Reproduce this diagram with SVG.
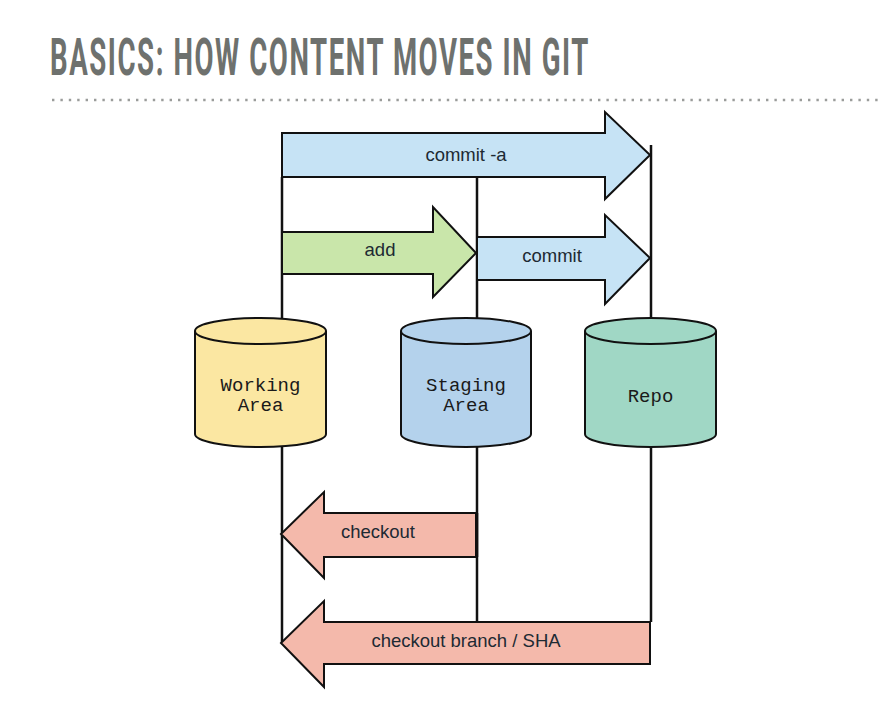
<svg xmlns="http://www.w3.org/2000/svg" width="882" height="706" viewBox="0 0 882 706">
<style>
.title{font-family:Roboto,"Liberation Sans",Arial,sans-serif;font-weight:700;font-size:52px;letter-spacing:3px;fill:#6e716e}
.lbl{font-family:"Liberation Sans",Arial,sans-serif;font-size:18.5px;fill:#1d2a33;text-anchor:middle}
.mono{font-family:"Liberation Mono","Courier New",monospace;font-size:19px;fill:#1a1a1a;text-anchor:middle}
.edge{stroke:#111;stroke-width:2.5;fill:none}
.out{stroke:#111;stroke-width:2;stroke-linejoin:miter}
.blue{fill:#c6e3f5}
.green{fill:#c9e6aa}
.red{fill:#f4b9ab}
</style>
<rect width="882" height="706" fill="#ffffff"/>
<text class="title" x="50" y="75" textLength="540" lengthAdjust="spacingAndGlyphs">BASICS: HOW CONTENT MOVES IN GIT</text>
<line x1="52" y1="100" x2="882" y2="100" stroke="#9a9c9a" stroke-width="2.4" stroke-dasharray="2.4 6"/>
<g id="connectors">
  <path class="edge" d="M282,177 V318 M282,447 V643 M477,177 V318 M477,447 V622 M651,145 V318 M651,447 V622"/>
  <g id="commit-a">
    <path class="out blue" d="M282,133 H605 V112 L650,155 L605,199 V177 H282 Z"/>
    <text class="lbl" x="466" y="161">commit -a</text>
  </g>
  <g id="add">
    <path class="out green" d="M282,232 H433 V207 L476,253 L433,297 V274 H282 Z"/>
    <text class="lbl" x="380" y="256">add</text>
  </g>
  <g id="commit">
    <path class="out blue" d="M477,237 H605 V215 L650,258 L605,304 V280 H477 Z"/>
    <text class="lbl" x="552" y="262">commit</text>
  </g>
  <g id="checkout">
    <path class="out red" d="M476,513 H324 V492 L281,534 L324,578 V557 H476 Z"/>
    <text class="lbl" x="378" y="538">checkout</text>
  </g>
  <g id="checkout-branch">
    <path class="out red" d="M650,622 H324 V601 L281,643 L324,687 V664 H650 Z"/>
    <text class="lbl" x="466" y="647">checkout branch / SHA</text>
  </g>
  <path class="edge" d="M477,513 V557"/>
</g>
<g id="working-area">
  <path class="out" fill="#fbe7a2" d="M195,331 A65.5,13 0 0 1 326,331 V434 A65.5,13 0 0 1 195,434 Z"/>
  <path class="out" fill="none" d="M195,331 A65.5,13 0 0 0 326,331"/>
  <text class="mono" x="260.5" y="391">Working</text>
  <text class="mono" x="260.5" y="411">Area</text>
</g>
<g id="staging-area">
  <path class="out" fill="#b4d2ec" d="M401,331 A65,13 0 0 1 531,331 V434 A65,13 0 0 1 401,434 Z"/>
  <path class="out" fill="none" d="M401,331 A65,13 0 0 0 531,331"/>
  <text class="mono" x="466" y="391">Staging</text>
  <text class="mono" x="466" y="411">Area</text>
</g>
<g id="repo">
  <path class="out" fill="#a0d7c5" d="M585,331 A65.5,13 0 0 1 716,331 V434 A65.5,13 0 0 1 585,434 Z"/>
  <path class="out" fill="none" d="M585,331 A65.5,13 0 0 0 716,331"/>
  <text class="mono" x="650.5" y="402">Repo</text>
</g>
</svg>
